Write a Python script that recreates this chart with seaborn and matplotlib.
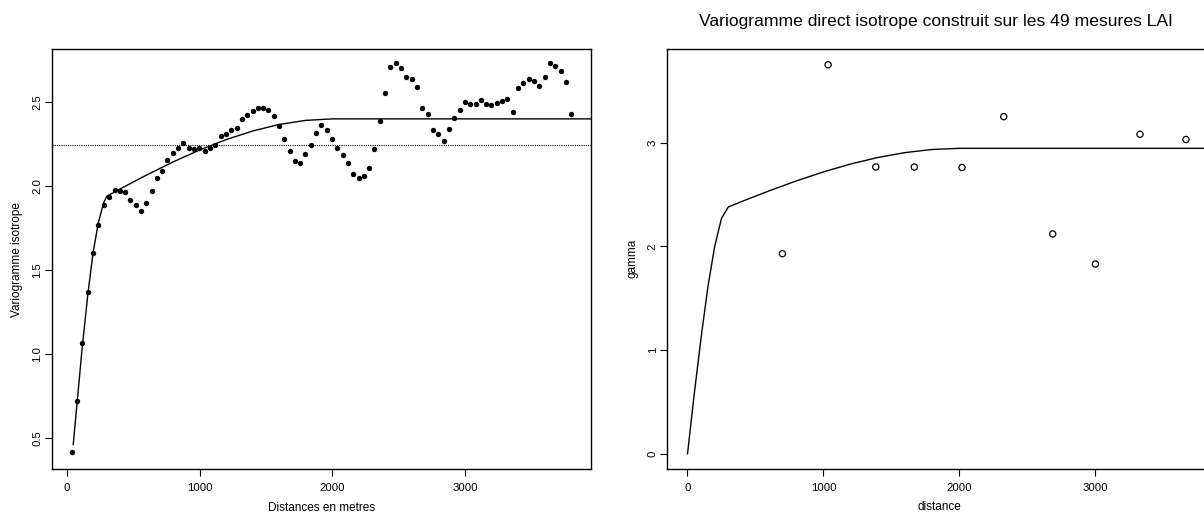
import matplotlib
matplotlib.use("Agg")
import matplotlib.pyplot as plt
import seaborn as sns
import pandas as pd

# ---------------- data ----------------
left_dist = [36, 74, 114, 157, 195, 235, 275, 315, 358, 398,
             438, 476, 516, 557, 594, 637, 675, 715, 755, 795,
             836, 876, 916, 956, 996, 1037, 1077, 1117, 1157, 1198,
             1238, 1278, 1318, 1358, 1399, 1439, 1479, 1517, 1557, 1597,
             1637, 1678, 1718, 1756, 1796, 1836, 1876, 1917, 1957, 1997,
             2037, 2077, 2118, 2158, 2198, 2236, 2276, 2316, 2357, 2397,
             2437, 2480, 2517, 2558, 2598, 2638, 2678, 2718, 2759, 2799,
             2839, 2879, 2919, 2960, 3000, 3040, 3080, 3121, 3161, 3199,
             3239, 3279, 3319, 3360, 3400, 3440, 3480, 3520, 3561, 3601,
             3641, 3681, 3721, 3762, 3802]
left_gamma = [0.415, 0.72, 1.064, 1.367, 1.601, 1.766, 1.886, 1.936, 1.974, 1.970,
              1.962, 1.917, 1.887, 1.849, 1.899, 1.970, 2.048, 2.089, 2.155, 2.194,
              2.226, 2.256, 2.226, 2.218, 2.224, 2.208, 2.228, 2.244, 2.296, 2.308,
              2.333, 2.345, 2.399, 2.423, 2.446, 2.464, 2.464, 2.452, 2.417, 2.355,
              2.278, 2.208, 2.147, 2.137, 2.188, 2.242, 2.313, 2.363, 2.333, 2.278,
              2.225, 2.183, 2.137, 2.069, 2.048, 2.060, 2.107, 2.220, 2.387, 2.554,
              2.708, 2.732, 2.702, 2.649, 2.637, 2.589, 2.464, 2.429, 2.333, 2.310,
              2.268, 2.339, 2.405, 2.452, 2.500, 2.488, 2.488, 2.512, 2.488, 2.482,
              2.494, 2.506, 2.518, 2.440, 2.583, 2.613, 2.637, 2.625, 2.595, 2.649,
              2.732, 2.714, 2.685, 2.619, 2.429]
left_model_dist = [46, 74, 114, 157, 195, 235, 275, 300, 400, 600, 800, 1000,
                   1200, 1400, 1600, 1800, 2000, 3950]
left_model_gamma = [0.46, 0.70, 1.04, 1.36, 1.60, 1.78, 1.90, 1.94, 1.983, 2.066,
                    2.144, 2.215, 2.277, 2.328, 2.367, 2.391, 2.400, 2.400]
sample_variance = 2.242

right_dist = [698, 1034, 1385, 1668, 2019, 2326, 2686, 3000, 3328, 3666]
right_gamma = [1.93, 3.75, 2.765, 2.765, 2.76, 3.25, 2.12, 1.83, 3.08, 3.03]
right_model_dist = [0, 50, 100, 150, 200, 250, 300, 400, 600, 800, 1000,
                    1200, 1400, 1600, 1800, 2000, 4200]
right_model_gamma = [0.0, 0.58, 1.12, 1.61, 2.00, 2.27, 2.38, 2.433, 2.535,
                     2.631, 2.718, 2.794, 2.857, 2.904, 2.934, 2.945, 2.945]

x_ticks = [0, 1000, 2000, 3000]
left_y_ticks = [0.5, 1.0, 1.5, 2.0, 2.5]
left_y_ticklabels = ["0.5", "1.0", "1.5", "2.0", "2.5"]
right_y_ticks = [0, 1, 2, 3]
right_y_ticklabels = ["0", "1", "2", "3"]

title_right = "Variogramme direct isotrope construit sur les 49 mesures LAI"
left_xlabel = "Distances en metres"
left_ylabel = "Variogramme isotrope"
right_xlabel = "distance"
right_ylabel = "gamma"

# ---------------- style ----------------
sns.set_theme(style="ticks")
plt.rcParams['font.family'] = ['Liberation Sans', 'DejaVu Sans']
plt.rcParams['axes.edgecolor'] = 'black'
plt.rcParams['axes.linewidth'] = 1.0
plt.rcParams['xtick.color'] = 'black'
plt.rcParams['ytick.color'] = 'black'
plt.rcParams['text.color'] = 'black'
plt.rcParams['axes.labelcolor'] = 'black'

fig = plt.figure(figsize=(12.04, 5.17), dpi=100)
fig.patch.set_facecolor('white')

ax1 = fig.add_axes([0.0434, 0.0923, 0.4475, 0.8123])
ax2 = fig.add_axes([0.5544, 0.0934, 0.4514, 0.8118])

# ---------------- left panel ----------------
df_l = pd.DataFrame({"d": left_dist, "g": left_gamma})
df_lm = pd.DataFrame({"d": left_model_dist, "g": left_model_gamma})
sns.lineplot(data=df_lm, x="d", y="g", ax=ax1, color="black", lw=1.0,
             sort=False, estimator=None)
sns.scatterplot(data=df_l, x="d", y="g", ax=ax1, color="black", s=15,
                marker="o", edgecolor="black", linewidth=0)
ax1.axhline(sample_variance, color="black", lw=0.8, ls=(0, (1, 1)))
ax1.set_xlim(-112, 3950)
ax1.set_ylim(0.314, 2.814)
ax1.set_xticks(x_ticks)
ax1.set_yticks(left_y_ticks)
ax1.set_yticklabels(left_y_ticklabels)
ax1.set_xlabel(left_xlabel, fontsize=8.5, labelpad=6)
ax1.set_ylabel(left_ylabel, fontsize=8.5, labelpad=7)

# ---------------- right panel ----------------
df_r = pd.DataFrame({"d": right_dist, "g": right_gamma})
df_rm = pd.DataFrame({"d": right_model_dist, "g": right_model_gamma})
sns.lineplot(data=df_rm, x="d", y="g", ax=ax2, color="black", lw=1.0,
             sort=False, estimator=None)
sns.scatterplot(data=df_r, x="d", y="g", ax=ax2, s=20, marker="o",
                facecolor="none", edgecolor="black", linewidth=0.9)
ax2.set_xlim(-147, 3850)
ax2.set_ylim(-0.142, 3.902)
ax2.set_xticks(x_ticks)
ax2.set_yticks(right_y_ticks)
ax2.set_yticklabels(right_y_ticklabels)
ax2.set_xlabel(right_xlabel, fontsize=8.5, labelpad=6)
ax2.set_ylabel(right_ylabel, fontsize=8.5, labelpad=7)
fig.text(0.7775, 0.959, title_right, ha="center", va="center", fontsize=12.6)

for ax in (ax1, ax2):
    for sp in ax.spines.values():
        sp.set_visible(True)
        sp.set_color("black")
        sp.set_linewidth(1.0)
    ax.tick_params(axis="both", direction="out", length=5, width=0.8,
                   labelsize=8.2, colors="black")
    ax.tick_params(axis="x", pad=5)
    ax.tick_params(axis="y", pad=2)
    for lab in ax.get_yticklabels():
        lab.set_rotation(90)
        lab.set_va("center")
        lab.set_ha("right")
    ax.grid(False)
    ax.set_facecolor("white")

fig.savefig("out.png", dpi=100, facecolor="white")
